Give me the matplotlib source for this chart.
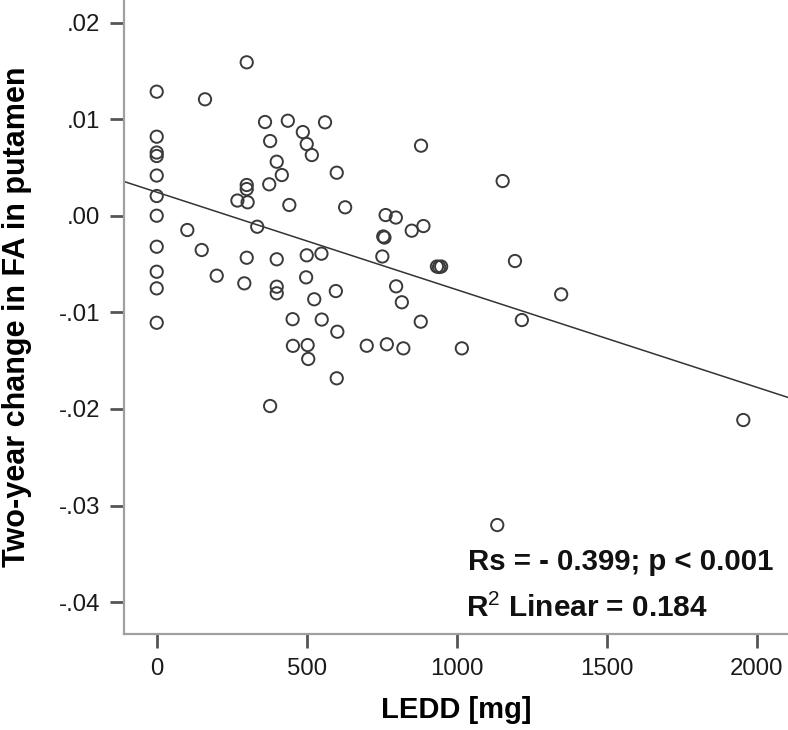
import matplotlib
matplotlib.use("Agg")
import matplotlib.pyplot as plt
import numpy as np

plt.rcParams['font.family'] = ['Liberation Sans', 'DejaVu Sans']
plt.rcParams['mathtext.fontset'] = 'custom'
plt.rcParams['mathtext.rm'] = 'Liberation Sans'
plt.rcParams['mathtext.it'] = 'Liberation Sans:italic'
plt.rcParams['mathtext.bf'] = 'Liberation Sans:bold'

# LEDD [mg]
ledd = [0, 0, 0, 0, 0, 0, 0, 0, 0, 0, 0,
        300, 161, 361, 437, 561, 487, 500, 517, 378, 400,
        417, 600, 375, 300, 300, 269, 303, 442, 628, 102,
        335, 150, 300, 400, 500, 549, 200, 292, 400, 400,
        498, 525, 597, 453, 550, 602, 454, 503, 505, 700,
        767, 600, 378, 763, 797, 755, 759, 752, 881, 1153,
        850, 889, 934, 941, 948, 1194, 798, 817, 1348, 880,
        1217, 822, 1017, 1955, 1135]
# Two-year change in FA in putamen
fa_change = [0.01284, 0.00818, 0.00654, 0.00618, 0.00416, 0.00204, 0.0, -0.00321, -0.00580, -0.00752, -0.01108,
             0.01588, 0.01205, 0.00970, 0.00983, 0.00967, 0.00866, 0.00742, 0.00628, 0.00773, 0.00559,
             0.00421, 0.00445, 0.00325, 0.00318, 0.00276, 0.00157, 0.00139, 0.00111, 0.00087, -0.00148,
             -0.00114, -0.00355, -0.00435, -0.00451, -0.00410, -0.00393, -0.00621, -0.00700, -0.00735, -0.00803,
             -0.00638, -0.00865, -0.00780, -0.01071, -0.01075, -0.01201, -0.01347, -0.01339, -0.01483, -0.01346,
             -0.01331, -0.01683, -0.01970, 0.00007, -0.00019, -0.00215, -0.00226, -0.00422, 0.00725, 0.00359,
             -0.00155, -0.00107, -0.00526, -0.00531, -0.00526, -0.00469, -0.00731, -0.00896, -0.00814, -0.01097,
             -0.01080, -0.01373, -0.01373, -0.02115, -0.03202]

# Linear fit line
fit_intercept = 0.00244
fit_slope = -1.01e-5

x_ticks = [0, 500, 1000, 1500, 2000]
y_ticks = [0.02, 0.01, 0.00, -0.01, -0.02, -0.03, -0.04]
y_tick_labels = ['.02', '.01', '.00', '-.01', '-.02', '-.03', '-.04']

fig = plt.figure(figsize=(7.88, 7.30), dpi=100)
ax = fig.add_axes([124/788, 96/730, 664/788, 634/730])

xlim = (-109, 2104)
ylim = (-0.0433, 0.02233)
ax.set_xlim(*xlim)
ax.set_ylim(*ylim)

ax.scatter(ledd, fa_change, s=78, facecolors='none', edgecolors='#3a3a3a',
           linewidths=1.4, zorder=3)

xl = np.array(xlim)
ax.plot(xl, fit_intercept + fit_slope * xl, color='#333333', lw=1.1, zorder=2)

ax.set_xticks(x_ticks)
ax.set_xticklabels([str(t) for t in x_ticks])
ax.set_yticks(y_ticks)
ax.set_yticklabels(y_tick_labels)

for s in ['top', 'right']:
    ax.spines[s].set_visible(False)
for s in ['left', 'bottom']:
    ax.spines[s].set_color('#a0a0a0')
    ax.spines[s].set_linewidth(1.6)

ax.tick_params(axis='both', direction='out', length=10, width=2, color='#555555',
               labelsize=17.3, labelcolor='#1a1a1a', pad=7)

ax.set_xlabel('LEDD [mg]', fontsize=21, fontweight='bold', labelpad=12)
ax.set_ylabel('Two-year change in FA in putamen', fontsize=22, fontweight='bold', labelpad=19)

fig.text(468/788, 1 - 562/730, 'Rs = - 0.399; p < 0.001', fontsize=21.2,
         fontweight='bold', ha='left', va='center', color='#111111')
fig.text(466/788, 1 - 608/730, r'R$^{\mathrm{2}}$ Linear = 0.184', fontsize=21.4,
         fontweight='bold', ha='left', va='center', color='#111111')

fig.savefig('out.png', dpi=100)
